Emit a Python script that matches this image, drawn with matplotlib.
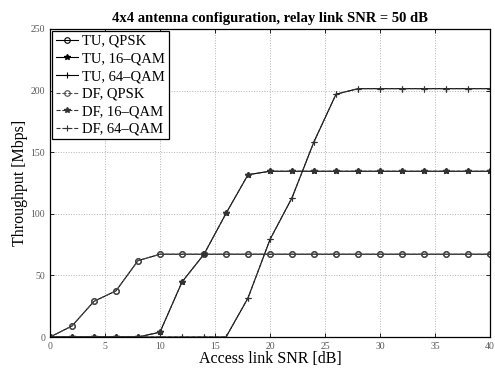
import numpy as np
import matplotlib
matplotlib.use("Agg")
import matplotlib.pyplot as plt

plt.rcParams["font.family"] = ["Liberation Serif", "DejaVu Serif"]

snr = np.arange(0, 41, 2)
qpsk = [0, 9, 29, 37.5, 62, 67.2, 67.2, 67.2, 67.2, 67.2, 67.2,
        67.2, 67.2, 67.2, 67.2, 67.2, 67.2, 67.2, 67.2, 67.2, 67.2]
qam16 = [0, 0, 0, 0, 0, 4, 44.7, 67.2, 100.3, 131.7, 134.5,
         134.5, 134.5, 134.5, 134.5, 134.5, 134.5, 134.5, 134.5, 134.5, 134.5]
qam64 = [0, 0, 0, 0, 0, 0, 0, 0, 0, 31.7, 79.2,
         113, 158.5, 197, 201.5, 201.5, 201.5, 201.5, 201.5, 201.5, 201.5]

# relay link SNR = 50 dB -> DF curves coincide with TU
df_qpsk = list(qpsk)
df_qam16 = list(qam16)
df_qam64 = list(qam64)

fig = plt.figure(figsize=(4.95, 3.7), dpi=100)
ax = fig.add_axes([0.101, 0.089, 0.889, 0.833])

lw = 0.8
ax.plot(snr, qpsk, color="k", ls="-", marker="o", mfc="none", ms=4, mew=0.8, lw=lw,
        label="TU, QPSK")
ax.plot(snr, qam16, color="k", ls="-", marker="*", ms=4, lw=lw, label="TU, 16\u2013QAM")
ax.plot(snr, qam64, color="k", ls="-", marker="+", ms=5, mew=0.8, lw=lw,
        label="TU, 64\u2013QAM")
ax.plot(snr, df_qpsk, color="0.3", ls="--", marker="o", mfc="none", ms=4, mew=0.8, lw=lw,
        label="DF, QPSK")
ax.plot(snr, df_qam16, color="0.2", ls="--", marker="*", ms=4, lw=lw,
        label="DF, 16\u2013QAM")
ax.plot(snr, df_qam64, color="0.2", ls="--", marker="+", ms=5, mew=0.8, lw=lw,
        label="DF, 64\u2013QAM")

ax.set_xlim(0, 40)
ax.set_ylim(0, 250)
ax.set_xticks(np.arange(0, 41, 5))
ax.set_yticks(np.arange(0, 251, 50))
ax.tick_params(direction="in", top=True, right=True, labelsize=7,
               labelcolor="0.35", length=3, width=0.6)
ax.grid(True, ls=":", color="0.7", lw=0.7)
for s in ax.spines.values():
    s.set_linewidth(0.9)

ax.set_xlabel("Access link SNR [dB]", fontsize=11.5, labelpad=0)
ax.set_ylabel("Throughput [Mbps]", fontsize=11.5, labelpad=2)
ax.set_title("4x4 antenna configuration, relay link SNR = 50 dB",
             fontsize=10.5, fontweight="bold", pad=5)

leg = ax.legend(loc="upper left", fontsize=10.5, labelspacing=0.3, handlelength=1.5,
                handletextpad=0.3, borderpad=0.25, borderaxespad=0.15, fancybox=False,
                framealpha=1, edgecolor="k")
leg.get_frame().set_linewidth(0.9)

fig.savefig("out.png", dpi=100)
